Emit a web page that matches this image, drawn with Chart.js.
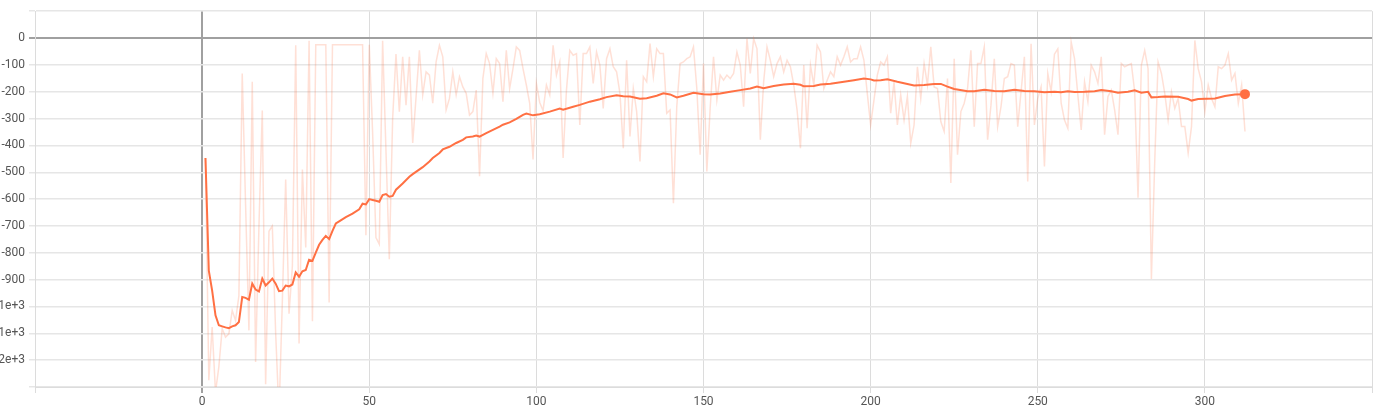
<!DOCTYPE html>
<html>
<head>
<meta charset="utf-8">
<script src="https://cdn.jsdelivr.net/npm/chart.js@4/dist/chart.umd.min.js"></script>
<style>
  html, body { margin: 0; padding: 0; background: #fff; }
  #wrap { width: 1378px; height: 415px; }
</style>
</head>
<body>
<div id="wrap"><canvas id="myChart"></canvas></div>
<script>
/*----------- data ------------ */
// raw reward per step, steps 1..312
const rawValues = [
    -447, -1275, -1077, -1320, -1225, -1083, -1114, -1102, -1015, -1052,
    -960, -132, -620, -1089, -163, -1207, -700, -270, -1290, -720,
    -700, -1100, -1400, -980, -527, -1027, -850, -27, -1138, -490,
    -780, -10, -1055, -25, -25, -25, -25, -985, -25, -25,
    -25, -25, -25, -25, -25, -25, -25, -25, -735, -25,
    -350, -743, -768, -10, -420, -824, -300, -60, -274, -70,
    -250, -70, -391, -220, -46, -212, -126, -138, -243, -89,
    -27, -70, -268, -225, -126, -212, -144, -182, -206, -287,
    -274, -194, -515, -150, -58, -95, -206, -77, -95, -237,
    -46, -188, -114, -33, -46, -114, -175, -243, -452, -169,
    -240, -270, -175, -212, -27, -138, -89, -447, -194, -46,
    -64, -58, -324, -58, -58, -33, -169, -52, -101, -262,
    -77, -40, -107, -126, -206, -410, -83, -367, -188, -274,
    -460, -144, -163, -21, -144, -40, -58, -58, -280, -268,
    -615, -256, -95, -89, -77, -70, -33, -188, -435, -95,
    -497, -260, -70, -231, -138, -157, -138, -151, -132, -52,
    -101, -256, -2, -132, -2, -40, -379, -163, -33, -83,
    -144, -95, -70, -126, -83, -107, -175, -268, -410, -101,
    -336, -101, -175, -27, -52, -188, -157, -126, -144, -70,
    -101, -70, -33, -89, -77, -77, -33, -83, -206, -324,
    -231, -138, -89, -101, -70, -280, -163, -324, -212, -305,
    -218, -392, -324, -107, -225, -95, -175, -33, -182, -188,
    -311, -348, -151, -540, -77, -435, -274, -243, -188, -46,
    -330, -95, -95, -33, -379, -250, -77, -330, -256, -151,
    -144, -95, -101, -330, -200, -70, -534, -21, -324, -225,
    -182, -478, -132, -200, -60, -40, -243, -305, -336, -15,
    -77, -212, -342, -163, -237, -101, -126, -169, -70, -360,
    -218, -194, -268, -360, -95, -107, -101, -95, -200, -595,
    -101, -46, -114, -898, -460, -89, -132, -206, -305, -200,
    -262, -225, -330, -330, -428, -330, -9, -114, -163, -274,
    -175, -225, -256, -107, -114, -101, -58, -157, -132, -243,
    -175, -348
];

const smoothSteps = [
    1, 2, 3, 4, 5, 6, 7, 8, 9, 10,
    11, 12, 13, 14, 15, 16, 17, 18, 19, 20,
    21, 22, 23, 24, 25, 26, 27, 28, 29, 30,
    31, 32, 33, 34, 35, 36, 37, 38, 39, 40,
    41, 43, 45, 47, 48, 49, 50, 51, 52, 53,
    54, 55, 56, 57, 58, 60, 62, 63, 66, 68,
    69, 71, 72, 74, 76, 78, 79, 81, 82, 83,
    85, 87, 89, 90, 92, 94, 96, 97, 99, 101,
    104, 107, 108, 111, 113, 116, 119, 121, 124, 126,
    128, 131, 133, 136, 138, 140, 142, 144, 147, 150,
    152, 155, 158, 161, 164, 166, 168, 171, 174, 177,
    179, 180, 183, 185, 188, 192, 195, 198, 200, 201,
    203, 205, 208, 211, 213, 216, 219, 221, 223, 225,
    229, 231, 234, 237, 240, 243, 246, 249, 252, 255,
    257, 259, 261, 264, 267, 269, 272, 274, 277, 279,
    281, 283, 284, 286, 288, 292, 295, 296, 298, 303,
    306, 309, 312
];
const smoothValues = [
    -447, -867, -941, -1033, -1070, -1074, -1078, -1081, -1074, -1070,
    -1058, -965, -968, -975, -915, -937, -944, -896, -922, -910,
    -896, -915, -943, -941, -922, -925, -918, -873, -889, -869,
    -864, -826, -830, -799, -770, -752, -737, -749, -718, -691,
    -683, -667, -654, -638, -617, -620, -600, -603, -606, -610,
    -585, -581, -591, -588, -565, -542, -517, -507, -481, -460,
    -447, -428, -415, -405, -391, -379, -370, -367, -363, -367,
    -354, -342, -330, -323, -314, -301, -286, -281, -288, -284,
    -274, -263, -267, -256, -249, -237, -228, -220, -213, -217,
    -218, -226, -224, -215, -206, -210, -221, -215, -204, -209,
    -210, -207, -200, -194, -188, -181, -187, -179, -173, -170,
    -174, -180, -179, -173, -170, -163, -157, -151, -154, -158,
    -157, -154, -163, -171, -177, -175, -171, -171, -181, -190,
    -198, -198, -193, -197, -198, -193, -197, -198, -202, -200,
    -202, -198, -201, -200, -198, -194, -198, -204, -200, -195,
    -204, -200, -221, -220, -218, -219, -227, -233, -227, -225,
    -216, -210, -209
];

const xTicks = [-50, 0, 50, 100, 150, 200, 250, 300, 350];

/*----------- chart ------------ */
const lineColor = 'rgb(255, 112, 67)';

const rawPoints = rawValues.map((v, i) => ({ x: i + 1, y: v }));
const smoothPoints = smoothSteps.map((s, i) => ({ x: s, y: smoothValues[i] }));

function yLabel(v) {
    if (v >= 100 || v <= -1300) return '';
    if (v <= -1000) {
        const m = Math.round(-v / 100) / 10;
        return '-' + m + 'e+3';
    }
    return String(v);
}

Chart.defaults.font.family = 'Roboto, "Liberation Sans", sans-serif';
Chart.defaults.font.size = 12;
Chart.defaults.color = '#555';

const data = {
    datasets: [{
        label: 'smoothed',
        data: smoothPoints,
        borderColor: lineColor,
        backgroundColor: lineColor,
        borderWidth: 2,
        tension: 0,
        pointRadius: ctx => ctx.dataIndex === smoothPoints.length - 1 ? 4 : 0,
        pointHoverRadius: 0,
    }, {
        label: 'raw',
        data: rawPoints,
        borderColor: 'rgba(255, 112, 67, 0.22)',
        borderWidth: 1.5,
        tension: 0,
        pointRadius: 0,
    }]
};

const config = {
    type: 'line',
    data: data,
    options: {
        responsive: false,
        animation: false,
        layout: { padding: { top: 10, right: 6, left: 0, bottom: 0 } },
        plugins: {
            legend: { display: false },
            tooltip: { enabled: false }
        },
        scales: {
            x: {
                type: 'linear',
                min: -50,
                max: 350,
                afterBuildTicks: axis => { axis.ticks = xTicks.map(v => ({ value: v })); },
                afterFit: axis => { axis.height = 28; },
                ticks: {
                    maxRotation: 0,
                    padding: 2,
                    callback: v => (v === -50 || v === 350) ? '' : String(v)
                },
                grid: {
                    color: ctx => ctx.tick && ctx.tick.value === 0 ? '#a0a0a0' : '#dcdcdc',
                    lineWidth: ctx => ctx.tick && ctx.tick.value === 0 ? 2 : 1,
                    tickLength: 6
                },
                border: { color: '#dcdcdc' }
            },
            y: {
                min: -1300,
                max: 100,
                afterFit: axis => { axis.width = 35; },
                ticks: {
                    stepSize: 100,
                    padding: 4,
                    callback: v => yLabel(v)
                },
                grid: {
                    color: ctx => ctx.tick && ctx.tick.value === 0 ? '#a0a0a0' : '#e6e6e6',
                    lineWidth: ctx => ctx.tick && ctx.tick.value === 0 ? 2 : 1.5,
                    tickLength: 6
                },
                border: { color: '#dcdcdc' }
            }
        }
    },
};

const canvas = document.getElementById('myChart');
canvas.width = 1378;
canvas.height = 415;
const myChart = new Chart(canvas, config);
</script>
</body>
</html>
